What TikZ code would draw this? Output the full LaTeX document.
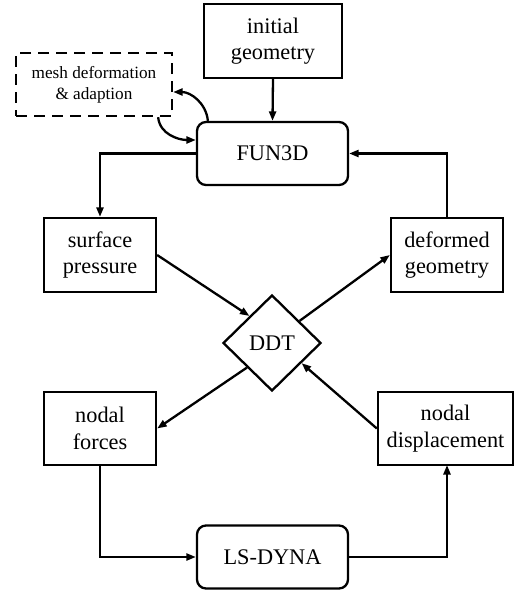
\documentclass[tikz,border=0pt]{standalone}
\usepackage{fontspec}
\setmainfont{Liberation Serif}
\usetikzlibrary{arrows.meta,shapes.geometric,calc}
\begin{document}
\begin{tikzpicture}[x=1pt,y=-1pt,
  every node/.style={font=\fontsize{22.3}{26.5}\selectfont, align=center, inner sep=0pt},
  box/.style={draw, line width=2.3pt, rectangle},
  rbox/.style={draw, line width=2.3pt, rectangle, rounded corners=9pt, minimum width=151pt, minimum height=63pt},
  conn/.style={line width=2.3pt, -{Triangle[length=9.5pt,width=7pt]}}]
\useasboundingbox (0,0) rectangle (514,592);
\node[box, minimum width=138pt, minimum height=74pt] (init) at (273,41) {initial\\geometry};
\node[box, dashed, dash pattern=on 11pt off 7pt, minimum width=156pt, minimum height=63pt,
  font=\fontsize{17.2}{21}\selectfont] (mesh) at (94,84.5) {mesh deformation\\\& adaption};
\node[rbox] (fun) at (272.5,153.5) {FUN3D};
\node[box, minimum width=112pt, minimum height=74pt] (sp) at (100,255) {surface\\pressure};
\node[box, minimum width=112pt, minimum height=74pt] (dg) at (447,255) {deformed\\geometry};
\node[draw, line width=2.3pt, diamond, minimum width=98pt, minimum height=96pt] (ddt) at (272,343) {DDT};
\node[box, minimum width=112pt, minimum height=73pt] (nf) at (100,428.5) {nodal\\forces};
\node[box, minimum width=135pt, minimum height=73pt] (nd) at (445.5,428.5) {nodal\\displacement};
\node[rbox] (ls) at (272.5,557) {LS-DYNA};

\draw[conn] (init.south) -- (fun.north);
\draw[conn] (fun.west) -| (sp.north);
\draw[conn] (dg.north) |- (fun.east);
\draw[conn] (sp.east) -- ($(ddt.west)!0.55!(ddt.north)$);
\draw[conn] ($(ddt.north)!0.55!(ddt.east)$) -- (dg.west);
\draw[conn] ($(ddt.west)!0.5!(ddt.south)$) -- (nf.east);
\draw[conn] (nd.west) -- ($(ddt.east)!0.41!(ddt.south)$);
\draw[conn] (nf.south) |- (ls.west);
\draw[conn] (ls.east) -| (447,465);
\coordinate (c1) at ([xshift=12pt]fun.north west);
\coordinate (c2) at ([yshift=-7.5pt]mesh.east);
\coordinate (c3) at ([xshift=-15pt]mesh.south east);
\coordinate (c4) at ([yshift=13.5pt]fun.west);
\draw[conn] (c1) to[out=95,in=0] (c2);
\draw[conn] (c3) to[out=-85,in=180] (c4);
\end{tikzpicture}
\end{document}
